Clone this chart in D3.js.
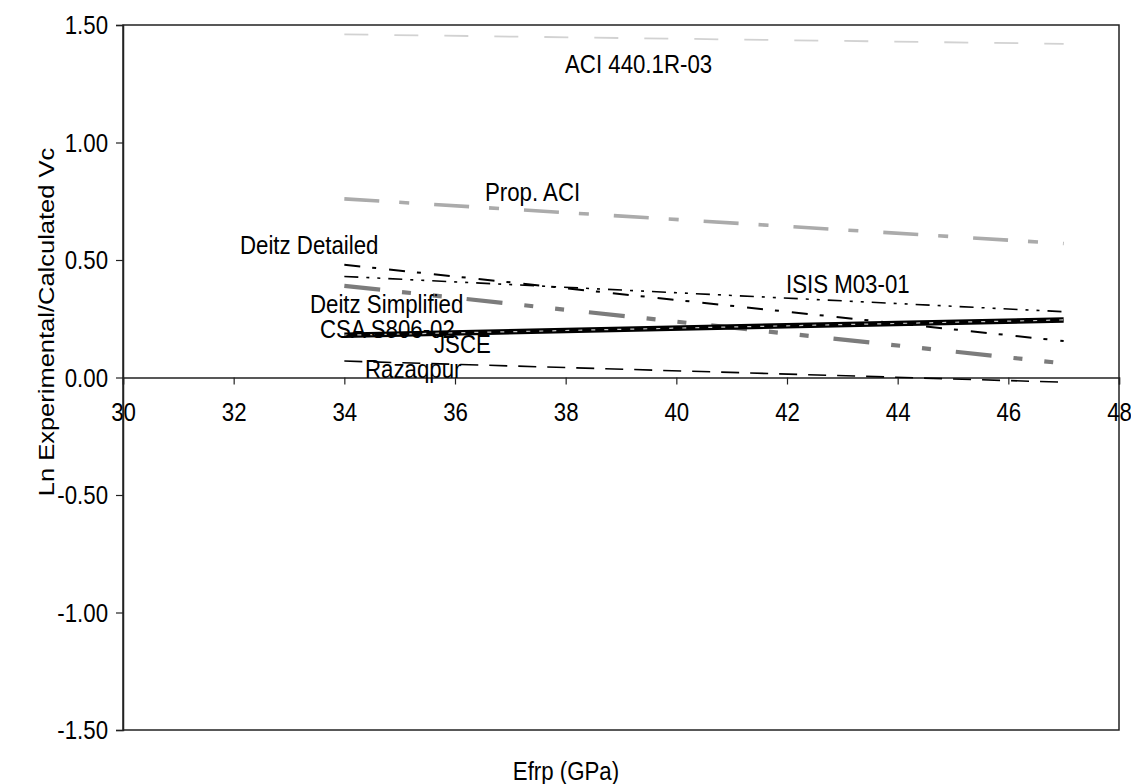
<!DOCTYPE html>
<html>
<head>
<meta charset="utf-8">
<script src="https://cdn.jsdelivr.net/npm/d3@7"></script>
<style>
  body { margin: 0; background: #fff; }
  svg { display: block; }
  text { font-family: "Liberation Sans", Arial, sans-serif; fill: #000; }
</style>
</head>
<body>
<svg id="chart" width="1131" height="784"></svg>
<script>
// Trend of ln(Vc,exp / Vc,calc) against FRP modulus for each design code
const efrp = [34, 47];
const aci440 = [1.46, 1.42];
const propAci = [0.76, 0.57];
const deitzDetailed = [0.48, 0.155];
const isis = [0.43, 0.28];
const deitzSimplified = [0.39, 0.06];
const csa = [0.18, 0.245];
const jsce = [0.18, 0.245];
const razaqpur = [0.07, -0.02];

const seriesNames = ["ACI 440.1R-03", "Prop. ACI", "Deitz Detailed", "ISIS M03-01",
                     "Deitz Simplified", "CSA S806-02", "JSCE", "Razaqpur"];
const seriesValues = [aci440, propAci, deitzDetailed, isis, deitzSimplified, csa, jsce, razaqpur];

const xTicks = [30, 32, 34, 36, 38, 40, 42, 44, 46, 48];
const yTicks = [-1.5, -1.0, -0.5, 0, 0.5, 1.0, 1.5];
const xTitle = "Efrp (GPa)";
const yTitle = "Ln Experimental/Calculated Vc";

// line appearance per series (same order as seriesNames)
const styles = [
  { stroke: "#d2d2d2", width: 1.8, dash: "24,26" },
  { stroke: "#ababab", width: 3.6, dash: "35,20,10,25" },
  { stroke: "#000",    width: 2,   dash: "16,12,4,13" },
  { stroke: "#000",    width: 1.6, dash: "14,8,3,8,3,8" },
  { stroke: "#7c7c7c", width: 4.2, dash: "36,22,9,22,9,25" },
  { stroke: "#000",    width: 5.5, dash: null },
  { stroke: "#c4c4c4", width: 1.2, dash: "4,9" },
  { stroke: "#000",    width: 1.6, dash: "18,11" }
];

// label anchor points (left edge, baseline) in pixels
const labelPos = [
  [565, 73], [485, 201], [240, 254], [786, 293],
  [310, 313], [320, 338], [434, 353], [365, 378]
];

const FS = 25, SX = 0.89;
const svg = d3.select("#chart");
const plotLeft = 123, plotRight = 1119, plotTop = 25, plotBottom = 730;

const x = d3.scaleLinear().domain([30, 48]).range([plotLeft, plotRight]);
const y = d3.scaleLinear().domain([-1.5, 1.5]).range([plotBottom, plotTop]);

// plot frame
svg.append("rect")
  .attr("x", plotLeft).attr("y", plotTop)
  .attr("width", plotRight - plotLeft).attr("height", plotBottom - plotTop)
  .attr("fill", "none").attr("stroke", "#222").attr("stroke-width", 1.5);

// y axis
const yAxis = svg.append("g")
  .attr("transform", `translate(${plotLeft},0)`)
  .call(d3.axisLeft(y).tickValues(yTicks).tickSizeOuter(0).tickSize(7)
        .tickFormat(d => d.toFixed(2)));
yAxis.attr("font-family", null).attr("font-size", null);
yAxis.select(".domain").attr("stroke", "#222").attr("stroke-width", 1.5);
yAxis.selectAll(".tick line").attr("stroke", "#222").attr("stroke-width", 1.2);
yAxis.selectAll(".tick text")
  .attr("font-size", FS)
  .attr("x", -15 / SX).attr("dy", "0.34em")
  .attr("transform", `scale(${SX},1)`);

// x axis crossing at zero
const xAxis = svg.append("g")
  .attr("transform", `translate(0,${y(0)})`)
  .call(d3.axisBottom(x).tickValues(xTicks).tickSizeOuter(0).tickSize(7)
        .tickFormat(d3.format("d")));
xAxis.attr("font-family", null).attr("font-size", null);
xAxis.select(".domain").attr("stroke", "#222").attr("stroke-width", 1.5);
xAxis.selectAll(".tick line").attr("stroke", "#222").attr("stroke-width", 1.2);
xAxis.selectAll(".tick text")
  .attr("font-size", FS)
  .attr("y", 44).attr("dy", 0)
  .attr("transform", `scale(${SX},1)`);

// series lines
const line = d3.line().x(d => x(d[0])).y(d => y(d[1]));
seriesValues.forEach((vals, i) => {
  const pts = efrp.map((e, j) => [e, vals[j]]);
  const s = styles[i];
  svg.append("path")
    .datum(pts)
    .attr("d", line)
    .attr("fill", "none")
    .attr("stroke", s.stroke)
    .attr("stroke-width", s.width)
    .attr("stroke-dasharray", s.dash);
});

// series labels
seriesNames.forEach((name, i) => {
  svg.append("text")
    .attr("transform", `translate(${labelPos[i][0]},${labelPos[i][1]}) scale(${SX},1)`)
    .attr("font-size", FS)
    .text(name);
});

// axis titles
svg.append("text")
  .attr("transform", `translate(566,780) scale(${SX},1)`)
  .attr("text-anchor", "middle")
  .attr("font-size", FS)
  .text(xTitle);

svg.append("text")
  .attr("transform", `translate(54,322) rotate(-90) scale(1.02,${SX})`)
  .attr("text-anchor", "middle")
  .attr("font-size", FS)
  .text(yTitle);
</script>
</body>
</html>
